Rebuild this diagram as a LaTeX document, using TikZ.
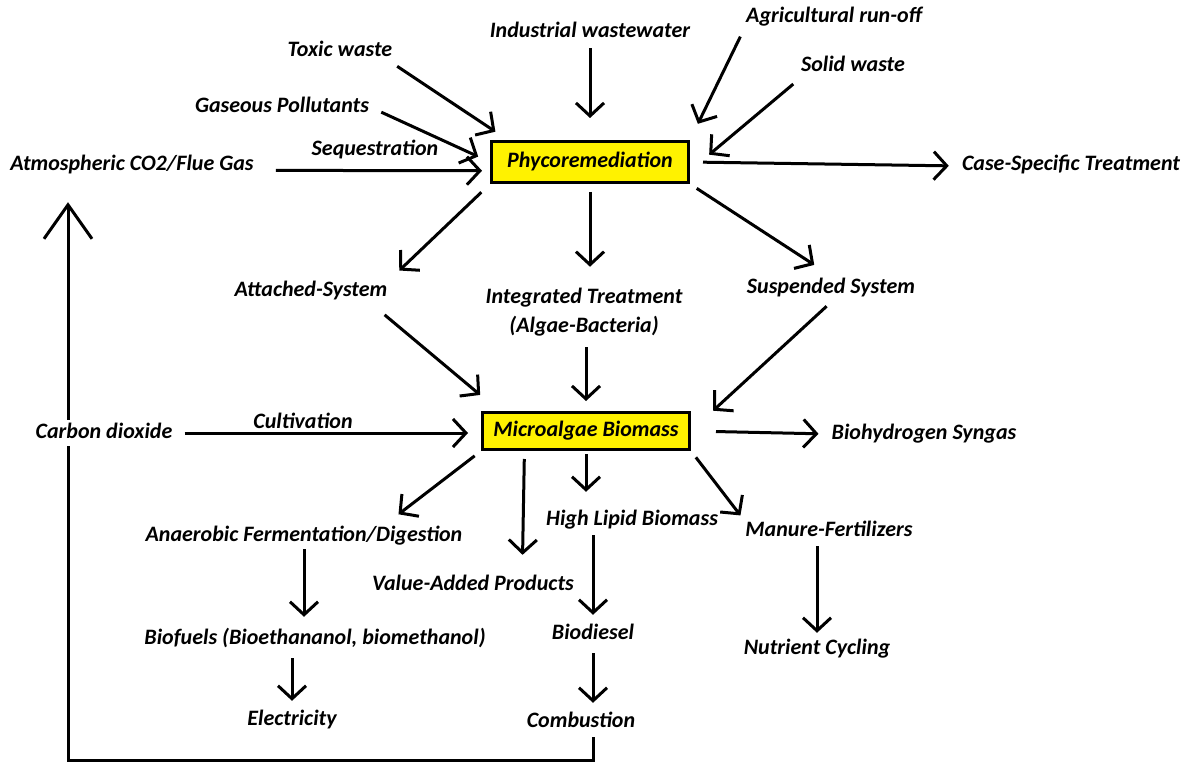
\documentclass[tikz,border=0pt]{standalone}
\usepackage{fontspec}
\setmainfont{Carlito}
\usetikzlibrary{arrows.meta,backgrounds}

\definecolor{boxyellow}{RGB}{255,242,0}

\begin{document}
\begin{tikzpicture}[x=1pt,y=-1pt,
    every node/.style={font=\fontsize{22}{29}\selectfont\bfseries\itshape, inner sep=3pt},
    lbl/.style={text height=15pt, text depth=5pt},
    box/.style={draw, line width=3pt, fill=boxyellow, inner sep=0pt},
    arr/.style={line width=3pt, -{Straight Barb[length=13pt,width=28pt]}, shorten <=6pt, shorten >=6pt},
    bigarr/.style={line width=3pt, -{Straight Barb[length=34pt,width=48pt]}}]
\useasboundingbox (0,0) rectangle (1186,767);

% inputs
\node[lbl] (toxic) at (340,52) {Toxic waste};
\node[lbl] (indus) at (590,33) {Industrial wastewater};
\node[lbl] (agri) at (834,18) {Agricultural run-off};
\node[lbl] (solid) at (853,67) {Solid waste};
\node[lbl] (gas) at (282,108) {Gaseous Pollutants};
\node[lbl] (seq) at (375,151) {Sequestration};
\node[lbl] (atmo) at (132,166) {Atmospheric CO2/Flue Gas};
\node[box, minimum width=197pt, minimum height=41pt] (phyco) at (590,162) {Phycoremediation};
\node[lbl] (case) at (1071,166) {Case-Specific Treatment};

% systems
\node[lbl] (attached) at (311,292) {Attached-System};
\node[align=center] (integ) at (584,312) {Integrated Treatment\\(Algae-Bacteria)};
\node[lbl] (susp) at (831,289) {Suspended System};
\node[box, minimum width=207pt, minimum height=37pt] (micro) at (586,431) {Microalgae Biomass};
\node[lbl, fill=white] (carbon) at (104,433) {Carbon dioxide};
\node[lbl] (cult) at (303,423) {Cultivation};
\node[lbl] (bioh) at (924,434) {Biohydrogen Syngas};

% products
\node[lbl] (anaer) at (304,536) {Anaerobic Fermentation/Digestion};
\node[lbl] (lipid) at (632,520) {High Lipid Biomass};
\node[lbl] (manure) at (829,531) {Manure-Fertilizers};
\node[lbl] (value) at (473,585) {Value-Added Products};
\node[lbl] (biofuels) at (315,639) {Biofuels (Bioethananol, biomethanol)};
\node[lbl] (biodiesel) at (593,634) {Biodiesel};
\node[lbl] (nutrient) at (817,649) {Nutrient Cycling};
\node[lbl] (elec) at (292,720) {Electricity};
\node[lbl] (comb) at (581,722) {Combustion};
\coordinate (corner) at (68,760);

% into phycoremediation
\draw[arr, shorten <=2pt, shorten >=15pt] (toxic.south east) -- (phyco.165);
\draw[arr, shorten <=2pt, shorten >=22pt] (indus.south) -- (phyco.north);
\draw[arr, shorten >=18pt] (agri.south west) -- (phyco.north east);
\draw[arr, shorten >=25pt] (solid.south west) -- (phyco.-5);
\draw[arr, shorten <=10pt, shorten >=13pt] (gas.east) -- (phyco.west);
\draw[arr, shorten <=19pt, shorten >=8pt] (atmo.-2) -- (phyco.-175);
\draw[arr, shorten <=13pt, shorten >=10pt] (phyco.east) -- (case.west);

% out of phycoremediation
\draw[arr, shorten <=12pt, shorten >=12pt] (phyco.south west) -- (attached.north east);
\draw[arr, shorten <=8pt, shorten >=18pt] (phyco.south) -- (phyco.south |- integ.north);
\draw[arr, shorten <=8pt, shorten >=20pt] (phyco.south east) -- (susp.north);

% into biomass
\draw[arr, shorten <=15pt, shorten >=25pt] (attached.-12) -- (micro.167);
\draw[arr, shorten <=8pt, shorten >=10pt] (micro.north |- integ.south) -- (micro.north);
\draw[arr, shorten >=30pt] (susp.south) -- (micro.east);
\draw[arr, shorten <=9pt, shorten >=13pt] (carbon.east) -- (micro.west |- carbon.east);
\draw[arr, shorten <=25pt, shorten >=10pt] (micro.east) -- (bioh.west);

% out of biomass
\draw[arr, shorten <=8pt, shorten >=14pt] (micro.south west) -- (anaer.9);
\draw[arr, shorten <=8pt, shorten >=17pt] (micro.-162) -- (value.15);
\draw[arr, shorten <=3pt, shorten >=15pt] (micro.south) -- (micro.south |- lipid.north);
\draw[arr, shorten <=8pt, shorten >=3pt] (micro.south east) -- (manure.north west);
\draw[arr, shorten <=2pt] (biodiesel.north |- lipid.south) -- (biodiesel.north);
\draw[arr, shorten <=0pt, shorten >=9pt] (anaer.south) -- (anaer.south |- biofuels.north);
\draw[arr, shorten <=2pt, shorten >=3pt] (nutrient.north |- manure.south) -- (nutrient.north);
\draw[arr] (elec.north |- biofuels.south) -- (elec.north);
\draw[arr] (biodiesel.south) -- (biodiesel.south |- comb.north);

% back to the atmosphere
\begin{scope}[on background layer]
\draw[bigarr, shorten <=2pt, shorten >=23pt] (comb.south -| biodiesel.south) |- (corner) -- (corner |- atmo.south);
\end{scope}
\end{tikzpicture}
\end{document}
